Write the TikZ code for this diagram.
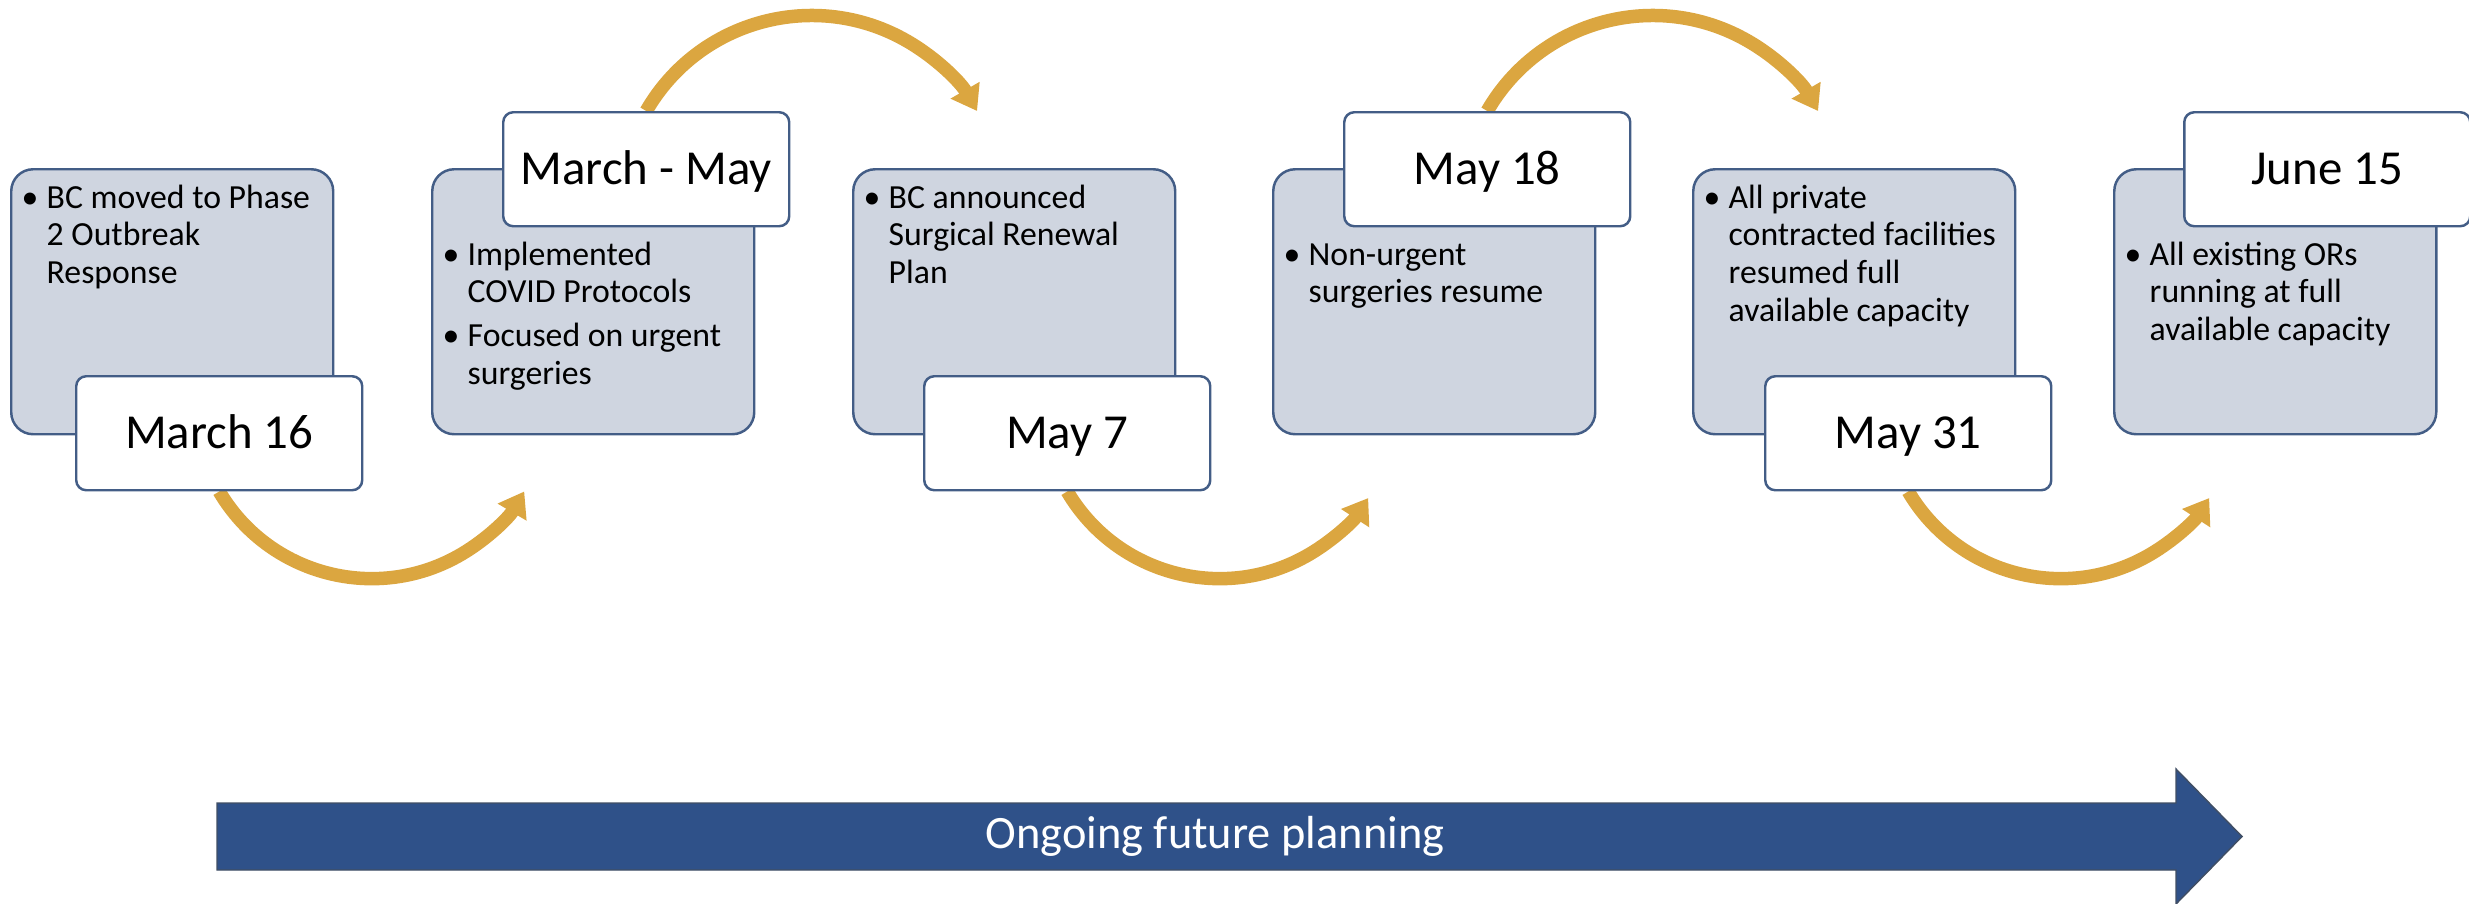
\documentclass[tikz,border=0pt]{standalone}
\usepackage{fontspec}
\setmainfont{Carlito}
\usetikzlibrary{arrows.meta,backgrounds}

\definecolor{boxfill}{RGB}{207,213,224}
\definecolor{boxline}{RGB}{67,93,134}
\definecolor{arcgold}{RGB}{219,166,64}
\definecolor{planblue}{RGB}{47,81,137}
\definecolor{planline}{RGB}{64,78,100}

\newlength{\bulind}\setlength{\bulind}{0.25cm}
\newcommand{\bul}[1]{\par\hangindent=\bulind\hangafter=1\noindent\makebox[\bulind][l]{\textbullet}#1}
\newcommand{\bodyfont}{\fontsize{9.6}{10.75}\selectfont}
\newcommand{\datefont}{\fontsize{13.9}{16}\selectfont}
\newcommand{\boxtext}[1]{\begin{minipage}[t]{3.0cm}\bodyfont #1\end{minipage}}

\tikzset{
  graybox/.style={draw=boxline, fill=boxfill, line width=0.7pt, rounded corners=0.22cm,
    minimum width=3.22cm, minimum height=2.65cm, anchor=north west, inner sep=0pt},
  datebox/.style={draw=boxline, fill=white, line width=0.7pt, rounded corners=0.1cm,
    minimum width=2.86cm, minimum height=1.14cm, anchor=north west, inner sep=0pt,
    font=\datefont, text height=0.30cm, text depth=0pt},
  bodytext/.style={anchor=base west, inner sep=0pt},
  goldarc/.style={draw=arcgold, line width=0.135cm, -{Triangle[width=0.32cm,length=0.24cm]}}
}

\begin{document}
\begin{tikzpicture}
\useasboundingbox (0,0) rectangle (24.69,-9.03);
\node[graybox] (g1) at (0.10,-1.68) {};
\node[graybox] (g2) at (4.31,-1.68) {};
\node[graybox] (g3) at (8.52,-1.68) {};
\node[graybox] (g4) at (12.72,-1.68) {};
\node[graybox] (g5) at (16.92,-1.68) {};
\node[graybox] (g6) at (21.13,-1.68) {};
\node[bodytext] (t1) at ([xshift=0.11cm,yshift=-0.40cm]g1.north west) {\boxtext{\bul{BC moved to Phase\\2 Outbreak\\Response}}};
\node[bodytext] (t2) at ([xshift=0.11cm,yshift=-0.97cm]g2.north west) {\boxtext{\bul{Implemented\\COVID Protocols}\vspace{0.06cm}\bul{Focused on urgent\\surgeries}}};
\node[bodytext] (t3) at ([xshift=0.11cm,yshift=-0.40cm]g3.north west) {\boxtext{\bul{BC announced\\Surgical Renewal\\Plan}}};
\node[bodytext] (t4) at ([xshift=0.11cm,yshift=-0.97cm]g4.north west) {\boxtext{\bul{Non-urgent\\surgeries resume}}};
\node[bodytext] (t5) at ([xshift=0.11cm,yshift=-0.40cm]g5.north west) {\boxtext{\bul{All private\\contracted facilities\\resumed full\\available capacity}}};
\node[bodytext] (t6) at ([xshift=0.11cm,yshift=-0.97cm]g6.north west) {\boxtext{\bul{All existing ORs\\running at full\\available capacity}}};
\node[datebox] (d1) at (0.75,-3.75) {March 16};
\node[datebox] (d2) at (5.02,-1.11) {March - May};
\node[datebox] (d3) at (9.23,-3.75) {May 7};
\node[datebox] (d4) at (13.43,-1.11) {May 18};
\node[datebox] (d5) at (17.64,-3.75) {May 31};
\node[datebox] (d6) at (21.83,-1.11) {June 15};
\begin{scope}[on background layer]
\draw[goldarc] (d1.south) arc[start angle=210.5, end angle=329.5, radius=1.77];
\draw[goldarc] (d2.north) arc[start angle=150, end angle=30, radius=1.91];
\draw[goldarc] (d3.south) arc[start angle=210.5, end angle=327, radius=1.77];
\draw[goldarc] (d4.north) arc[start angle=150, end angle=30, radius=1.91];
\draw[goldarc] (d5.south) arc[start angle=210.5, end angle=327, radius=1.77];
\end{scope}
\filldraw[fill=planblue, draw=planline, line width=0.4pt] (2.17,-8.03) -- (21.76,-8.03) -- (21.76,-7.69)
  -- (22.42,-8.365) -- (21.76,-9.04) -- (21.76,-8.70) -- (2.17,-8.70) -- cycle;
\node[text=white, font=\fontsize{13.2}{15}\selectfont] (plan) at (12.15,-8.365) {Ongoing future planning};
\end{tikzpicture}
\end{document}
